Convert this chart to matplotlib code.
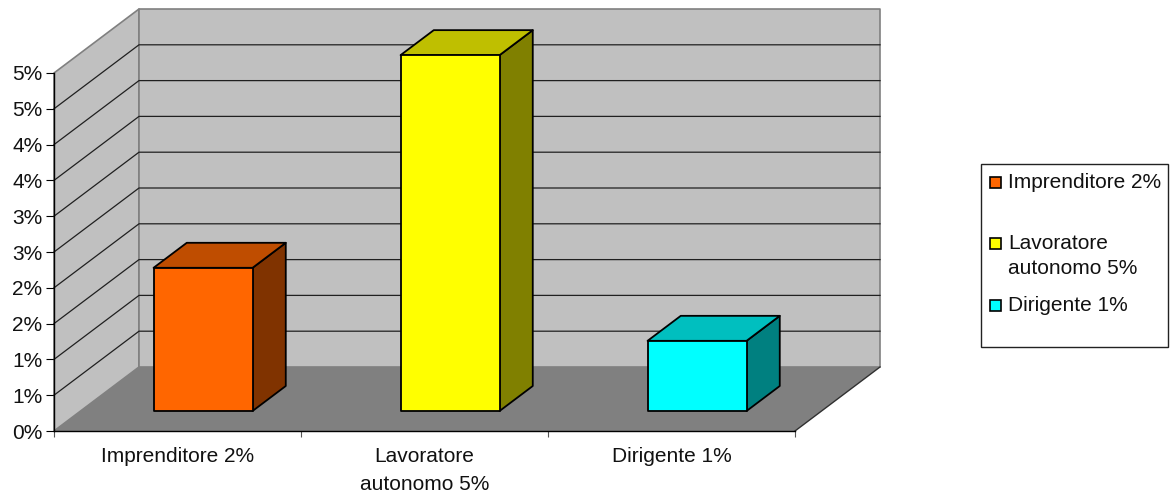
import matplotlib.pyplot as plt
from matplotlib.patches import Polygon, Rectangle
import numpy as np

plt.rcParams['font.family'] = ['Liberation Sans', 'DejaVu Sans']

categories = ['Imprenditore 2%', 'Lavoratore\nautonomo 5%', 'Dirigente 1%']
values = [2.0, 4.97, 0.98]
front_colors = ['#ff6600', '#ffff00', '#00ffff']
top_colors = ['#bf4d00', '#bfbf00', '#00bfbf']
side_colors = ['#803300', '#808000', '#008080']
ytick_values = np.arange(0, 5.5, 0.5)
ytick_labels = ['0%', '1%', '1%', '2%', '2%', '3%', '3%', '4%', '4%', '5%', '5%']

W, H = 1174, 498
fig = plt.figure(figsize=(W / 100, H / 100), dpi=100)
ax = fig.add_axes([54 / W, (H - 431) / H, 741 / W, 358 / H])
ax.set_xlim(0, 3)
ax.set_ylim(0, 5)
ax.patch.set_visible(False)

# depth of the fake 3d box, in data units
depth_x = 85 / 247
depth_y = 64 / 71.6


def project(x, y, d):
    return (x + d * depth_x, y + d * depth_y)


def face(points, color, edge, lw=1.2, z=1):
    ax.add_patch(Polygon(points, closed=True, facecolor=color, edgecolor=edge,
                         linewidth=lw, zorder=z, clip_on=False, joinstyle='round'))


# walls and floor
face([project(0, 0, 0), project(0, 0, 1), project(0, 5, 1), project(0, 5, 0)], '#c0c0c0', '#808080', 1.2, 1)
face([project(0, 0, 1), project(3, 0, 1), project(3, 5, 1), project(0, 5, 1)], '#c0c0c0', '#808080', 1.2, 1)
face([project(0, 0, 0), project(3, 0, 0), project(3, 0, 1), project(0, 0, 1)], '#808080', 'none', 0, 2)

# gridlines
for v in ytick_values[1:-1]:
    p0, p1, p2 = project(0, v, 0), project(0, v, 1), project(3, v, 1)
    ax.plot([p0[0], p1[0], p2[0]], [p0[1], p1[1], p2[1]], color='#202020', linewidth=0.9,
            zorder=3, clip_on=False)
p0, p1 = project(3, 0, 0), project(3, 0, 1)
ax.plot([p0[0], p1[0]], [p0[1], p1[1]], color='#303030', linewidth=1.0, zorder=3, clip_on=False)

# bars
bar_width = 99 / 247
bar_shift = -1 / 247
d_front = 20 / 64
d_back = 45 / 64
for i, v in enumerate(values):
    x0 = i + 0.5 + bar_shift - bar_width / 2
    x1 = i + 0.5 + bar_shift + bar_width / 2
    face([project(x1, 0, d_front), project(x1, 0, d_back), project(x1, v, d_back), project(x1, v, d_front)],
         side_colors[i], 'black', 1.3, 5)
    face([project(x0, v, d_front), project(x1, v, d_front), project(x1, v, d_back), project(x0, v, d_back)],
         top_colors[i], 'black', 1.3, 5)
    face([project(x0, 0, d_front), project(x1, 0, d_front), project(x1, v, d_front), project(x0, v, d_front)],
         front_colors[i], 'black', 1.3, 6)

for s in ['top', 'right']:
    ax.spines[s].set_visible(False)
for s in ['left', 'bottom']:
    ax.spines[s].set_linewidth(1.0)
    ax.spines[s].set_zorder(4)

ax.set_yticks(ytick_values)
ax.set_yticklabels(ytick_labels, fontsize=15, color='#111111')
ax.tick_params(axis='y', length=5.8, width=0.8, pad=2.5)

ax.set_xticks([0, 1, 2, 3])
ax.set_xticklabels([])
ax.tick_params(axis='x', which='major', length=4.5, width=0.8, color='#555555')
ax.set_xticks([0.5, 1.5, 2.5], minor=True)
ax.set_xticklabels(categories, minor=True, fontsize=15, color='#111111', linespacing=1.6)
ax.tick_params(axis='x', which='minor', length=0, pad=11.5)

# legend box, drawn in pixel coords so entries keep their uneven spacing
lax = fig.add_axes([0, 0, 1, 1])
lax.set_xlim(0, W)
lax.set_ylim(H, 0)
lax.axis('off')
lax.add_patch(Rectangle((981, 164), 187, 183, facecolor='white', edgecolor='#222222', linewidth=1.0))
legend_y = [182, 243, 305]
for label, color, y in zip(categories, front_colors, legend_y):
    lax.add_patch(Rectangle((989.5, y - 5.5), 11, 11, facecolor=color, edgecolor='black', linewidth=1.2))
    # baseline goes by the last line of the label, one legend line is 25 px
    baseline = y + 6 + 25 * label.count('\n')
    lax.text(1008, baseline, label, fontsize=15, color='#111111', ha='left', va='baseline', linespacing=1.38)

fig.savefig('out.png', dpi=100)
